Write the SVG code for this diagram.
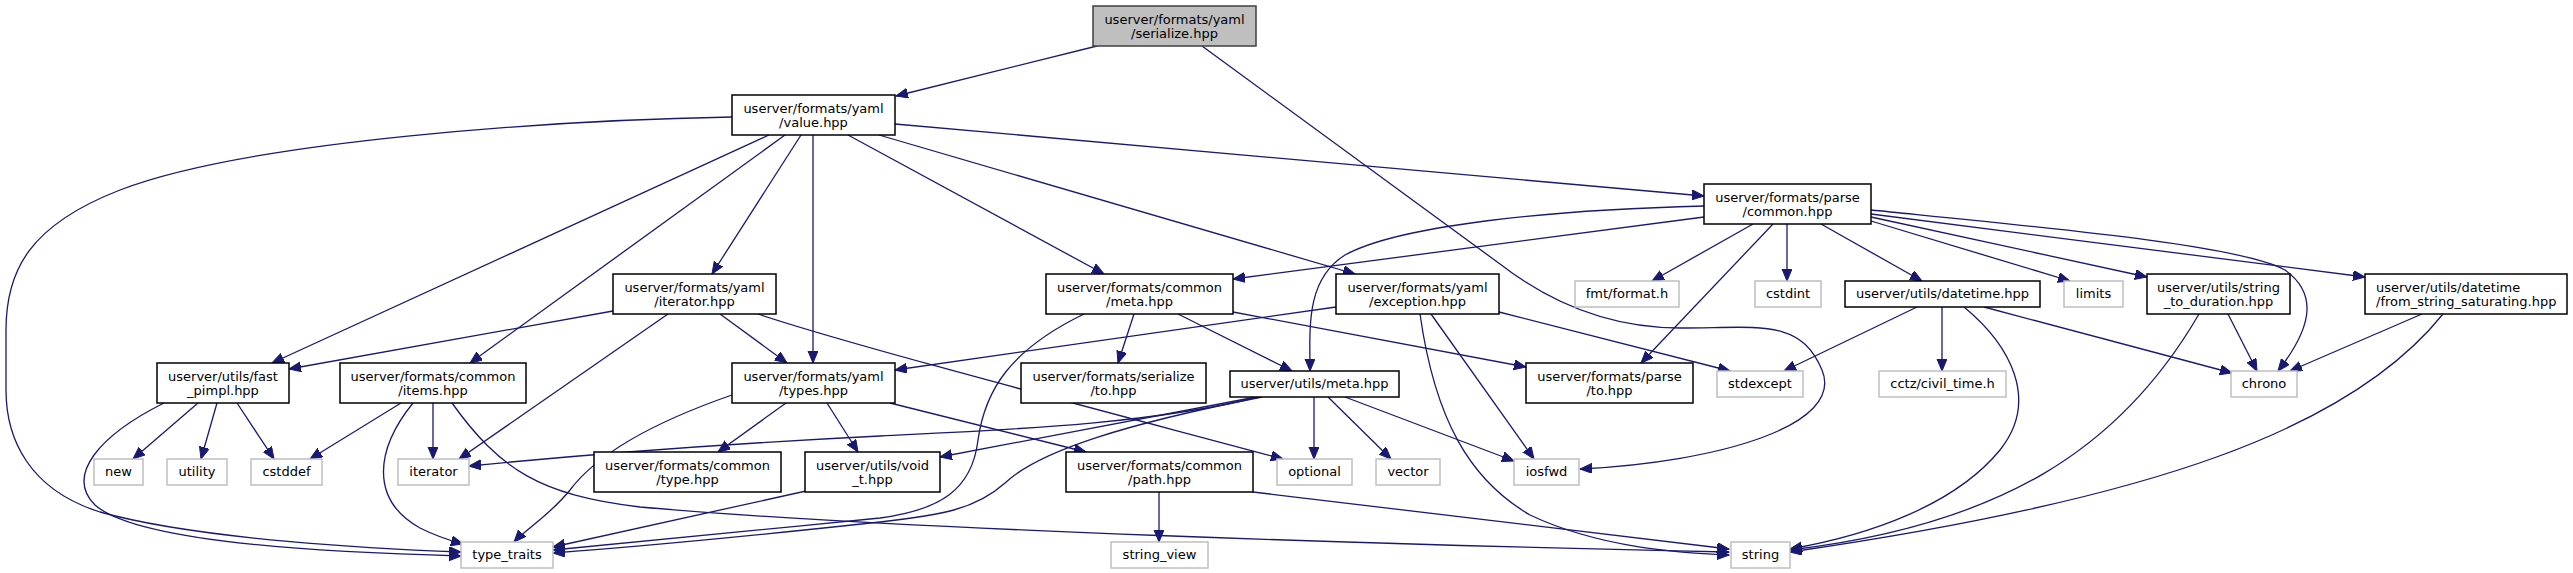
<svg xmlns="http://www.w3.org/2000/svg" width="2573" height="573" viewBox="0 0 2573 573">
<style>
rect{fill:#fff;stroke:#000;stroke-width:1.5}
.s rect{stroke:#bfbfbf}
.r rect{fill:#bfbfbf;stroke:#404040}
text{font-family:"DejaVu Sans","Liberation Sans",sans-serif;font-size:13px;text-anchor:middle;fill:#000}
.l text{text-anchor:start}
#edges path{fill:none;stroke:#191970;stroke-width:1.3;marker-end:url(#a)}
</style>
<defs>
<marker id="a" markerUnits="userSpaceOnUse" markerWidth="13" markerHeight="11" refX="12" refY="5" orient="auto"><path d="M0,0 L12,5 L0,10 z" fill="#191970" stroke="#191970" stroke-width="1"/></marker>
</defs>
<rect x="0" y="0" width="2573" height="573" style="fill:#fff;stroke:none"/>
<g id="edges">
<path d="M1097,46 L896,96"/>
<path d="M1202,46 L1500,264 C1540,295 1600,328 1680,328 C1760,328 1800,318 1822,370 C1845,425 1720,462 1580,469"/>
<path d="M732,117 C560,120 250,140 120,190 C30,225 6,270 6,330 L6,390 C6,440 30,490 100,512 C200,540 380,549 461,552"/>
<path d="M769,135 L272,363"/>
<path d="M785,135 L470,363"/>
<path d="M801,135 L712,274"/>
<path d="M813,135 L813,363"/>
<path d="M848,135 L1104,274"/>
<path d="M879,135 L1355,274"/>
<path d="M895,124 L1704,196"/>
<path d="M1704,217 L1233,279"/>
<path d="M1704,206 C1550,210 1400,225 1345,255 C1305,280 1310,330 1310,371"/>
<path d="M1753,224 L1652,281"/>
<path d="M1773,224 L1641,363"/>
<path d="M1787,224 L1787,281"/>
<path d="M1821,224 L1922,281"/>
<path d="M1871,221 L2070,281"/>
<path d="M1871,217 L2147,277"/>
<path d="M1871,214 L2365,277"/>
<path d="M1871,210 C2050,228 2240,245 2285,270 C2320,295 2310,330 2278,371"/>
<path d="M613,311 L289,369"/>
<path d="M668,314 L459,459"/>
<path d="M720,314 L787,363"/>
<path d="M758,314 C850,345 1100,410 1283,459"/>
<path d="M198,403 L133,459"/>
<path d="M217,403 L201,459"/>
<path d="M237,403 L274,459"/>
<path d="M164,403 C100,435 65,475 95,505 C140,545 350,553 461,556"/>
<path d="M401,403 L310,459"/>
<path d="M433,403 L433,459"/>
<path d="M413,403 C375,450 370,500 420,528 C440,538 452,541 463,544"/>
<path d="M452,403 C500,470 540,495 640,507 C900,530 1400,545 1729,552"/>
<path d="M786,403 L718,452"/>
<path d="M827,403 L858,452"/>
<path d="M732,395 C660,420 600,450 570,490 C550,515 525,530 514,542"/>
<path d="M890,403 L1086,452"/>
<path d="M806,491 L553,547"/>
<path d="M1084,314 C1010,350 985,390 978,440 C972,490 940,510 880,518 C760,530 620,543 553,550"/>
<path d="M1134,314 L1118,363"/>
<path d="M1178,314 L1292,371"/>
<path d="M1233,312 L1526,367"/>
<path d="M1336,307 L895,370"/>
<path d="M1431,314 L1534,459"/>
<path d="M1420,314 C1435,420 1470,480 1530,515 C1600,548 1680,553 1729,555"/>
<path d="M1499,312 L1730,371"/>
<path d="M1262,396 C1150,425 1000,430 880,436 C700,445 550,458 469,466"/>
<path d="M1256,397 L940,457"/>
<path d="M1262,397 C1130,423 1040,450 1005,483 C975,510 940,515 880,522 C760,535 620,548 553,553"/>
<path d="M1314,397 L1314,459"/>
<path d="M1328,397 L1391,459"/>
<path d="M1345,397 L1514,461"/>
<path d="M1159,492 L1159,542"/>
<path d="M1253,492 L1729,549"/>
<path d="M1917,307 L1784,371"/>
<path d="M1942,307 L1942,371"/>
<path d="M1964,307 C2010,345 2040,400 2000,450 C1955,505 1870,535 1790,549"/>
<path d="M1984,307 L2232,373"/>
<path d="M2228,314 L2257,371"/>
<path d="M2199,314 C2120,450 2000,525 1790,550"/>
<path d="M2422,314 L2290,371"/>
<path d="M2443,314 C2350,430 2150,500 1790,552"/>
</g>
<g id="n_serialize" class="r"><rect x="1093" y="6" width="163" height="40"/><text x="1174.5" y="24">userver/formats/yaml</text><text x="1174.5" y="38">/serialize.hpp</text></g>
<g id="n_value"><rect x="732" y="95" width="163" height="40"/><text x="813.5" y="113">userver/formats/yaml</text><text x="813.5" y="127">/value.hpp</text></g>
<g id="n_parse_common"><rect x="1704" y="184" width="167" height="40"/><text x="1787.5" y="202">userver/formats/parse</text><text x="1787.5" y="216">/common.hpp</text></g>
<g id="n_yaml_iterator"><rect x="613" y="274" width="163" height="40"/><text x="694.5" y="292">userver/formats/yaml</text><text x="694.5" y="306">/iterator.hpp</text></g>
<g id="n_common_meta"><rect x="1046" y="274" width="187" height="40"/><text x="1139.5" y="292">userver/formats/common</text><text x="1139.5" y="306">/meta.hpp</text></g>
<g id="n_yaml_exception"><rect x="1336" y="274" width="163" height="40"/><text x="1417.5" y="292">userver/formats/yaml</text><text x="1417.5" y="306">/exception.hpp</text></g>
<g id="n_fmt" class="s"><rect x="1575" y="281" width="104" height="26"/><text x="1627" y="298">fmt/format.h</text></g>
<g id="n_cstdint" class="s"><rect x="1755" y="281" width="66" height="26"/><text x="1788" y="298">cstdint</text></g>
<g id="n_datetime"><rect x="1845" y="281" width="195" height="26"/><text x="1942.5" y="298">userver/utils/datetime.hpp</text></g>
<g id="n_limits" class="s"><rect x="2064" y="281" width="59" height="26"/><text x="2093.5" y="298">limits</text></g>
<g id="n_s2d"><rect x="2147" y="274" width="143" height="40"/><text x="2218.5" y="292">userver/utils/string</text><text x="2218.5" y="306">_to_duration.hpp</text></g>
<g id="n_fss" class="l"><rect x="2365" y="274" width="202" height="40"/><text x="2376" y="292">userver/utils/datetime</text><text x="2376" y="306">/from_string_saturating.hpp</text></g>
<g id="n_fast_pimpl"><rect x="157" y="363" width="132" height="40"/><text x="223" y="381">userver/utils/fast</text><text x="223" y="395">_pimpl.hpp</text></g>
<g id="n_items"><rect x="340" y="363" width="186" height="40"/><text x="433" y="381">userver/formats/common</text><text x="433" y="395">/items.hpp</text></g>
<g id="n_types"><rect x="732" y="363" width="163" height="40"/><text x="813.5" y="381">userver/formats/yaml</text><text x="813.5" y="395">/types.hpp</text></g>
<g id="n_ser_to"><rect x="1021" y="363" width="185" height="40"/><text x="1113.5" y="381">userver/formats/serialize</text><text x="1113.5" y="395">/to.hpp</text></g>
<g id="n_umeta"><rect x="1230" y="371" width="169" height="26"/><text x="1314.5" y="388">userver/utils/meta.hpp</text></g>
<g id="n_parse_to"><rect x="1526" y="363" width="167" height="40"/><text x="1609.5" y="381">userver/formats/parse</text><text x="1609.5" y="395">/to.hpp</text></g>
<g id="n_stdexcept" class="s"><rect x="1717" y="371" width="86" height="26"/><text x="1760" y="388">stdexcept</text></g>
<g id="n_cctz" class="s"><rect x="1879" y="371" width="127" height="26"/><text x="1942.5" y="388">cctz/civil_time.h</text></g>
<g id="n_chrono" class="s"><rect x="2231" y="371" width="66" height="26"/><text x="2264" y="388">chrono</text></g>
<g id="n_new" class="s"><rect x="94" y="459" width="49" height="26"/><text x="118.5" y="476">new</text></g>
<g id="n_utility" class="s"><rect x="167" y="459" width="60" height="26"/><text x="197" y="476">utility</text></g>
<g id="n_cstddef" class="s"><rect x="251" y="459" width="71" height="26"/><text x="286.5" y="476">cstddef</text></g>
<g id="n_iterator" class="s"><rect x="398" y="459" width="71" height="26"/><text x="433.5" y="476">iterator</text></g>
<g id="n_ctype"><rect x="594" y="452" width="187" height="40"/><text x="687.5" y="470">userver/formats/common</text><text x="687.5" y="484">/type.hpp</text></g>
<g id="n_void_t"><rect x="805" y="452" width="135" height="40"/><text x="872.5" y="470">userver/utils/void</text><text x="872.5" y="484">_t.hpp</text></g>
<g id="n_path"><rect x="1066" y="452" width="187" height="40"/><text x="1159.5" y="470">userver/formats/common</text><text x="1159.5" y="484">/path.hpp</text></g>
<g id="n_optional" class="s"><rect x="1277" y="459" width="75" height="26"/><text x="1314.5" y="476">optional</text></g>
<g id="n_vector" class="s"><rect x="1376" y="459" width="64" height="26"/><text x="1408" y="476">vector</text></g>
<g id="n_iosfwd" class="s"><rect x="1514" y="459" width="65" height="26"/><text x="1546.5" y="476">iosfwd</text></g>
<g id="n_type_traits" class="s"><rect x="461" y="542" width="92" height="26"/><text x="507" y="559">type_traits</text></g>
<g id="n_string_view" class="s"><rect x="1111" y="542" width="97" height="26"/><text x="1159.5" y="559">string_view</text></g>
<g id="n_string" class="s"><rect x="1731" y="542" width="59" height="26"/><text x="1760.5" y="559">string</text></g>
</svg>
